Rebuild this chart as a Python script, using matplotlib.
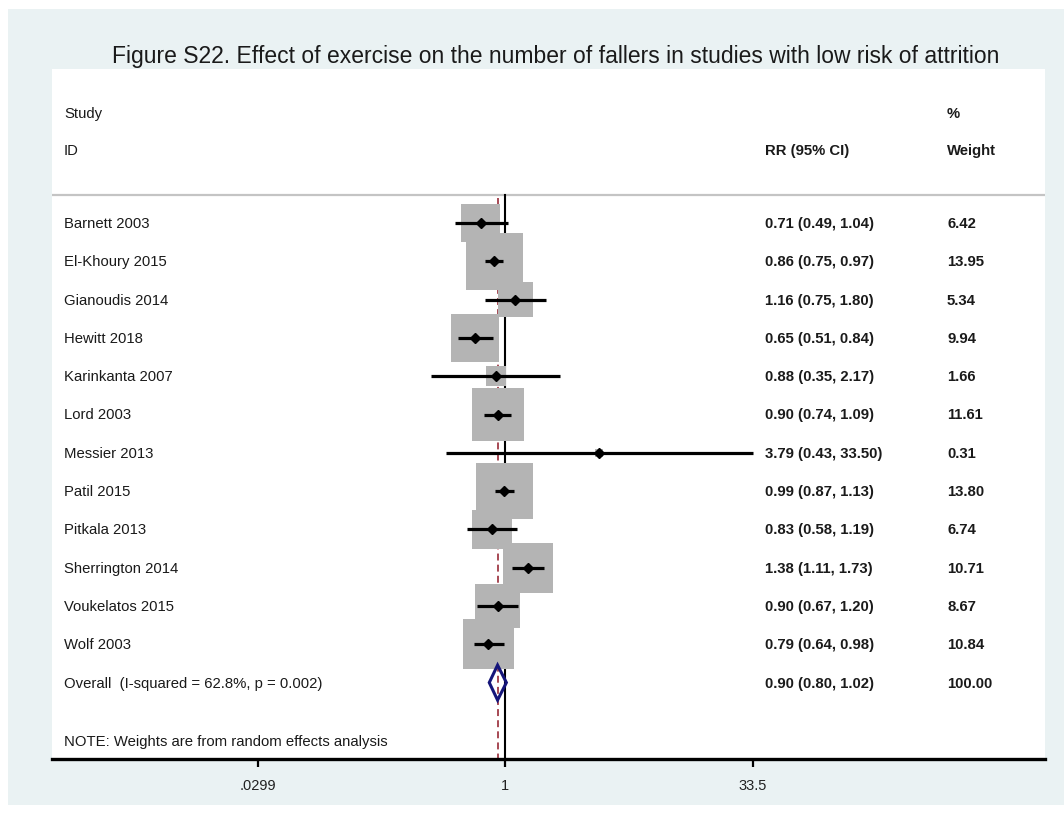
import numpy as np
import matplotlib
matplotlib.use("Agg")
import matplotlib.pyplot as plt
from matplotlib.patches import Rectangle, Polygon
from matplotlib.transforms import blended_transform_factory

plt.rcParams['font.family'] = ['Liberation Sans', 'DejaVu Sans']
plt.rcParams['lines.scale_dashes'] = False

# ---- data -------------------------------------------------------------
studies = ["Barnett 2003", "El-Khoury 2015", "Gianoudis 2014", "Hewitt 2018",
           "Karinkanta 2007", "Lord 2003", "Messier 2013", "Patil 2015",
           "Pitkala 2013", "Sherrington 2014", "Voukelatos 2015", "Wolf 2003"]
rr = [0.71, 0.86, 1.16, 0.65, 0.88, 0.90, 3.79, 0.99, 0.83, 1.38, 0.90, 0.79]
ci_low = [0.49, 0.75, 0.75, 0.51, 0.35, 0.74, 0.43, 0.87, 0.58, 1.11, 0.67, 0.64]
ci_high = [1.04, 0.97, 1.80, 0.84, 2.17, 1.09, 33.50, 1.13, 1.19, 1.73, 1.20, 0.98]
weights = [6.42, 13.95, 5.34, 9.94, 1.66, 11.61, 0.31, 13.80, 6.74, 10.71, 8.67, 10.84]

overall_label = "Overall  (I-squared = 62.8%, p = 0.002)"
overall_rr = 0.90
overall_low = 0.80
overall_high = 1.02
overall_weight = 100.00

xticks = [0.0299, 1, 33.5]
xtick_labels = [".0299", "1", "33.5"]

title = "Figure S22. Effect of exercise on the number of fallers in studies with low risk of attrition"
note = "NOTE: Weights are from random effects analysis"

# ---- figure -----------------------------------------------------------
W, H = 1064, 820
fig = plt.figure(figsize=(W / 100, H / 100), dpi=100, facecolor="white")

# graph region background
fig.patches.append(Rectangle((8 / W, (H - 806) / H), (W - 8) / W, (806 - 10) / H,
                             transform=fig.transFigure, facecolor="#EAF2F3",
                             edgecolor="none", zorder=-5))

left, right, top, bottom = 52, 1045, 70, 760
ax = fig.add_axes([left / W, (H - bottom) / H, (right - left) / W, (bottom - top) / H])
ax.set_zorder(2)
ax.set_facecolor("white")
ax.set_xscale("log")

px_per_log = 70.5
x_null = 505
ax.set_xlim(np.exp((left - x_null) / px_per_log), np.exp((right - x_null) / px_per_log))

row0, row_h = 224, 38.3
ax.set_ylim((bottom - row0) / row_h, (top - row0) / row_h)

n = len(studies)
rows = np.arange(n)
overall_row = n
rule_row = (196 - row0) / row_h

# header rule
ax.axhline(rule_row, color="#C4C4C4", lw=1.6, zorder=1)

# null line and overall estimate line
ax.plot([1, 1], [rule_row, ax.get_ylim()[0]], color="black", lw=1.5, zorder=1)
ax.plot([overall_rr, overall_rr], [(199 - row0) / row_h, ax.get_ylim()[0]],
        color="#A03A46", lw=1.3, linestyle=(0, (5, 3)), zorder=1)

# weight boxes (area proportional to weight)
ax.scatter(rr, rows, s=np.array(weights) * 121, marker="s", color="#B4B4B4",
           linewidths=0, zorder=2)

# confidence intervals and point estimates
ax.hlines(rows, ci_low, ci_high, color="black", lw=2.3, zorder=3)
ax.plot(rr, rows, linestyle="none", marker="D", markersize=5.5, color="black", zorder=4)

# pooled estimate diamond
dh = 0.457
diamond = Polygon([(overall_low, overall_row), (overall_rr, overall_row - dh),
                   (overall_high, overall_row), (overall_rr, overall_row + dh)],
                  closed=True, fill=False, edgecolor="#15157A", lw=2.2, zorder=5)
ax.add_patch(diamond)

# axes styling
for side in ("top", "left", "right"):
    ax.spines[side].set_visible(False)
ax.spines["bottom"].set_linewidth(2.4)
ax.spines["bottom"].set_color("black")
ax.set_yticks([])
ax.set_xticks(xticks)
ax.set_xticklabels(xtick_labels)
ax.xaxis.set_minor_locator(matplotlib.ticker.NullLocator())
ax.tick_params(axis="x", direction="out", length=6, width=1.6, pad=8,
               labelsize=10.5, labelcolor="#222222")

# text columns
tr = blended_transform_factory(ax.transAxes, ax.transData)
x_lab = (64 - left) / (right - left)
x_val = (765 - left) / (right - left)
x_wt = (947 - left) / (right - left)
fs = 10.7
txt = "#1A1A1A"

y_study = (114 - row0) / row_h
y_id = (151 - row0) / row_h
ax.text(x_lab, y_study, "Study", transform=tr, va="center", ha="left", fontsize=fs, color=txt)
ax.text(x_lab, y_id, "ID", transform=tr, va="center", ha="left", fontsize=fs, color=txt)
ax.text(x_val, y_id, "RR (95% CI)", transform=tr, va="center", ha="left", fontsize=fs,
        fontweight="bold", color=txt)
ax.text(x_wt, y_study, "%", transform=tr, va="center", ha="left", fontsize=fs,
        fontweight="bold", color=txt)
ax.text(x_wt, y_id, "Weight", transform=tr, va="center", ha="left", fontsize=fs,
        fontweight="bold", color=txt)

for i, name in enumerate(studies):
    ax.text(x_lab, i, name, transform=tr, va="center", ha="left", fontsize=fs, color=txt)
    ax.text(x_val, i, f"{rr[i]:.2f} ({ci_low[i]:.2f}, {ci_high[i]:.2f})", transform=tr,
            va="center", ha="left", fontsize=fs, fontweight="bold", color=txt)
    ax.text(x_wt, i, f"{weights[i]:.2f}", transform=tr, va="center", ha="left",
            fontsize=fs, fontweight="bold", color=txt)

ax.text(x_lab, overall_row, overall_label, transform=tr, va="center", ha="left",
        fontsize=fs, color=txt)
ax.text(x_val, overall_row, f"{overall_rr:.2f} ({overall_low:.2f}, {overall_high:.2f})",
        transform=tr, va="center", ha="left", fontsize=fs, fontweight="bold", color=txt)
ax.text(x_wt, overall_row, f"{overall_weight:.2f}", transform=tr, va="center", ha="left",
        fontsize=fs, fontweight="bold", color=txt)

ax.text(x_lab, (742 - row0) / row_h, note, transform=tr, va="center", ha="left",
        fontsize=fs, color=txt)

fig.text(556 / W, 1 - 63 / H, title, ha="center", va="baseline", fontsize=16.5, color=txt)

fig.savefig("out.png", dpi=100, facecolor=fig.get_facecolor())
